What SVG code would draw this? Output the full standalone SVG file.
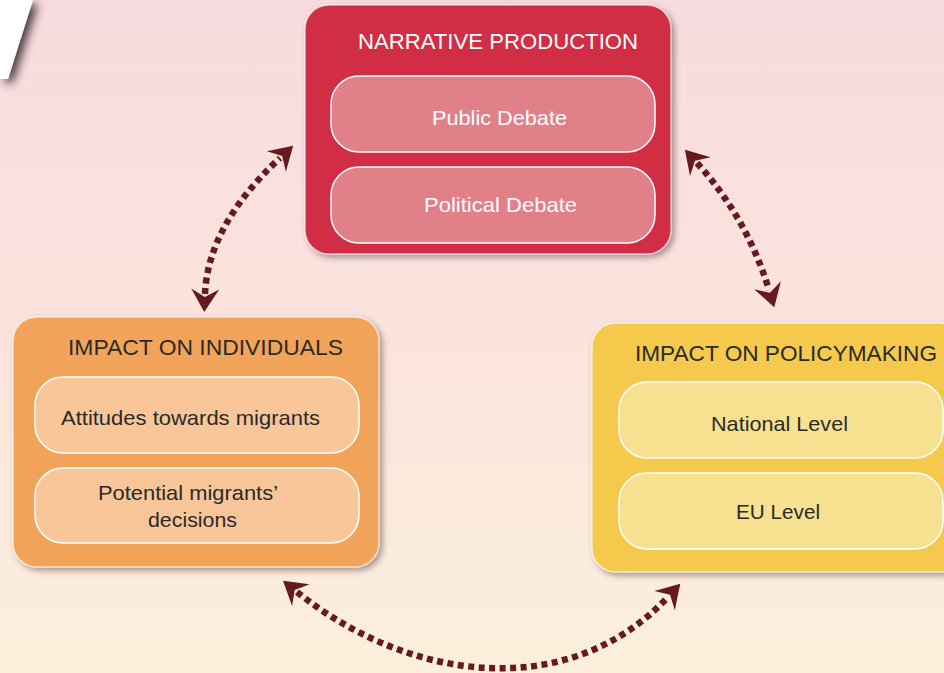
<svg xmlns="http://www.w3.org/2000/svg" width="944" height="673" viewBox="0 0 944 673">
<defs>
<linearGradient id="bg" x1="0" y1="0" x2="0" y2="1">
<stop offset="0" stop-color="#f8dbdf"/>
<stop offset="0.5" stop-color="#fbe4dd"/>
<stop offset="1" stop-color="#fbf0dc"/>
</linearGradient>
<filter id="sh" x="-10%" y="-10%" width="130%" height="130%">
<feDropShadow dx="3" dy="3" stdDeviation="3" flood-color="#5a4548" flood-opacity="0.55"/>
</filter>
<filter id="sh2" x="-50%" y="-50%" width="300%" height="200%">
<feDropShadow dx="5" dy="4" stdDeviation="5" flood-color="#3a2a2d" flood-opacity="0.9"/>
</filter>
<marker id="ah" markerUnits="userSpaceOnUse" viewBox="-10 -16 32 32" refX="0" refY="0" markerWidth="32" markerHeight="32" orient="auto-start-reverse">
<path d="M18,0 L-5,-14 L3,0 L-5,14 Z" fill="#661a1d"/>
</marker>
</defs>
<style>
.outer{stroke:#ffffff;stroke-opacity:0.6;stroke-width:1.5}
.inner{stroke:#ffffff;stroke-width:1.5}
.t{font-family:"Liberation Sans",Arial,sans-serif;}
.title{font-size:22px}
.lab{font-size:21px}
.light{fill:#ffffff}
.dark{fill:#2a2a2a}
.conn{fill:none;stroke:#661a1d;stroke-width:6.5;stroke-dasharray:6 4.5;marker-start:url(#ah);marker-end:url(#ah)}
</style>
<rect x="0" y="0" width="944" height="673" fill="url(#bg)"/>
<polygon points="0,0 33,0 8,79 0,79" fill="#ffffff" filter="url(#sh2)"/>

<g id="connectors">
<path class="conn" d="M205,294 Q208,225 280,158"/>
<path class="conn" d="M697,163 Q747,218 769,290"/>
<path class="conn" d="M297,592 C410,683 570,702 668,597"/>
</g>

<g id="narrative">
<rect class="outer" x="305" y="5" width="366" height="249" rx="24" fill="#d12f44" filter="url(#sh)"/>
<text class="t title light" x="358" y="49" textLength="280" lengthAdjust="spacingAndGlyphs">NARRATIVE PRODUCTION</text>
<g id="public">
<rect class="inner" x="331" y="76" width="324" height="76" rx="28" fill="#e2808a"/>
<text class="t lab light" x="432" y="125" textLength="135" lengthAdjust="spacingAndGlyphs">Public Debate</text>
</g>
<g id="political">
<rect class="inner" x="331" y="167" width="324" height="76" rx="28" fill="#e2808a"/>
<text class="t lab light" x="424" y="212" textLength="153" lengthAdjust="spacingAndGlyphs">Political Debate</text>
</g>
</g>

<g id="individuals">
<rect class="outer" x="13" y="317" width="366" height="250" rx="24" fill="#f2a35a" filter="url(#sh)"/>
<text class="t title dark" x="68" y="355" textLength="275" lengthAdjust="spacingAndGlyphs">IMPACT ON INDIVIDUALS</text>
<g id="attitudes">
<rect class="inner" x="35" y="377" width="324" height="76" rx="28" fill="#f8c698"/>
<text class="t lab dark" x="61" y="425" textLength="259" lengthAdjust="spacingAndGlyphs">Attitudes towards migrants</text>
</g>
<g id="decisions">
<rect class="inner" x="35" y="468" width="324" height="75" rx="28" fill="#f8c698"/>
<text class="t lab dark" x="98" y="500" textLength="180" lengthAdjust="spacingAndGlyphs">Potential migrants’</text>
<text class="t lab dark" x="148" y="527" textLength="89" lengthAdjust="spacingAndGlyphs">decisions</text>
</g>
</g>

<g id="policymaking">
<rect class="outer" x="592" y="323" width="372" height="249" rx="24" fill="#f5c94b" filter="url(#sh)"/>
<text class="t title dark" x="635" y="361" textLength="302" lengthAdjust="spacingAndGlyphs">IMPACT ON POLICYMAKING</text>
<g id="national">
<rect class="inner" x="619" y="382" width="324" height="76" rx="28" fill="#f7e08f"/>
<text class="t lab dark" x="711" y="431" textLength="137" lengthAdjust="spacingAndGlyphs">National Level</text>
</g>
<g id="eu">
<rect class="inner" x="619" y="473" width="324" height="76" rx="28" fill="#f7e08f"/>
<text class="t lab dark" x="736" y="519" textLength="84" lengthAdjust="spacingAndGlyphs">EU Level</text>
</g>
</g>
</svg>
